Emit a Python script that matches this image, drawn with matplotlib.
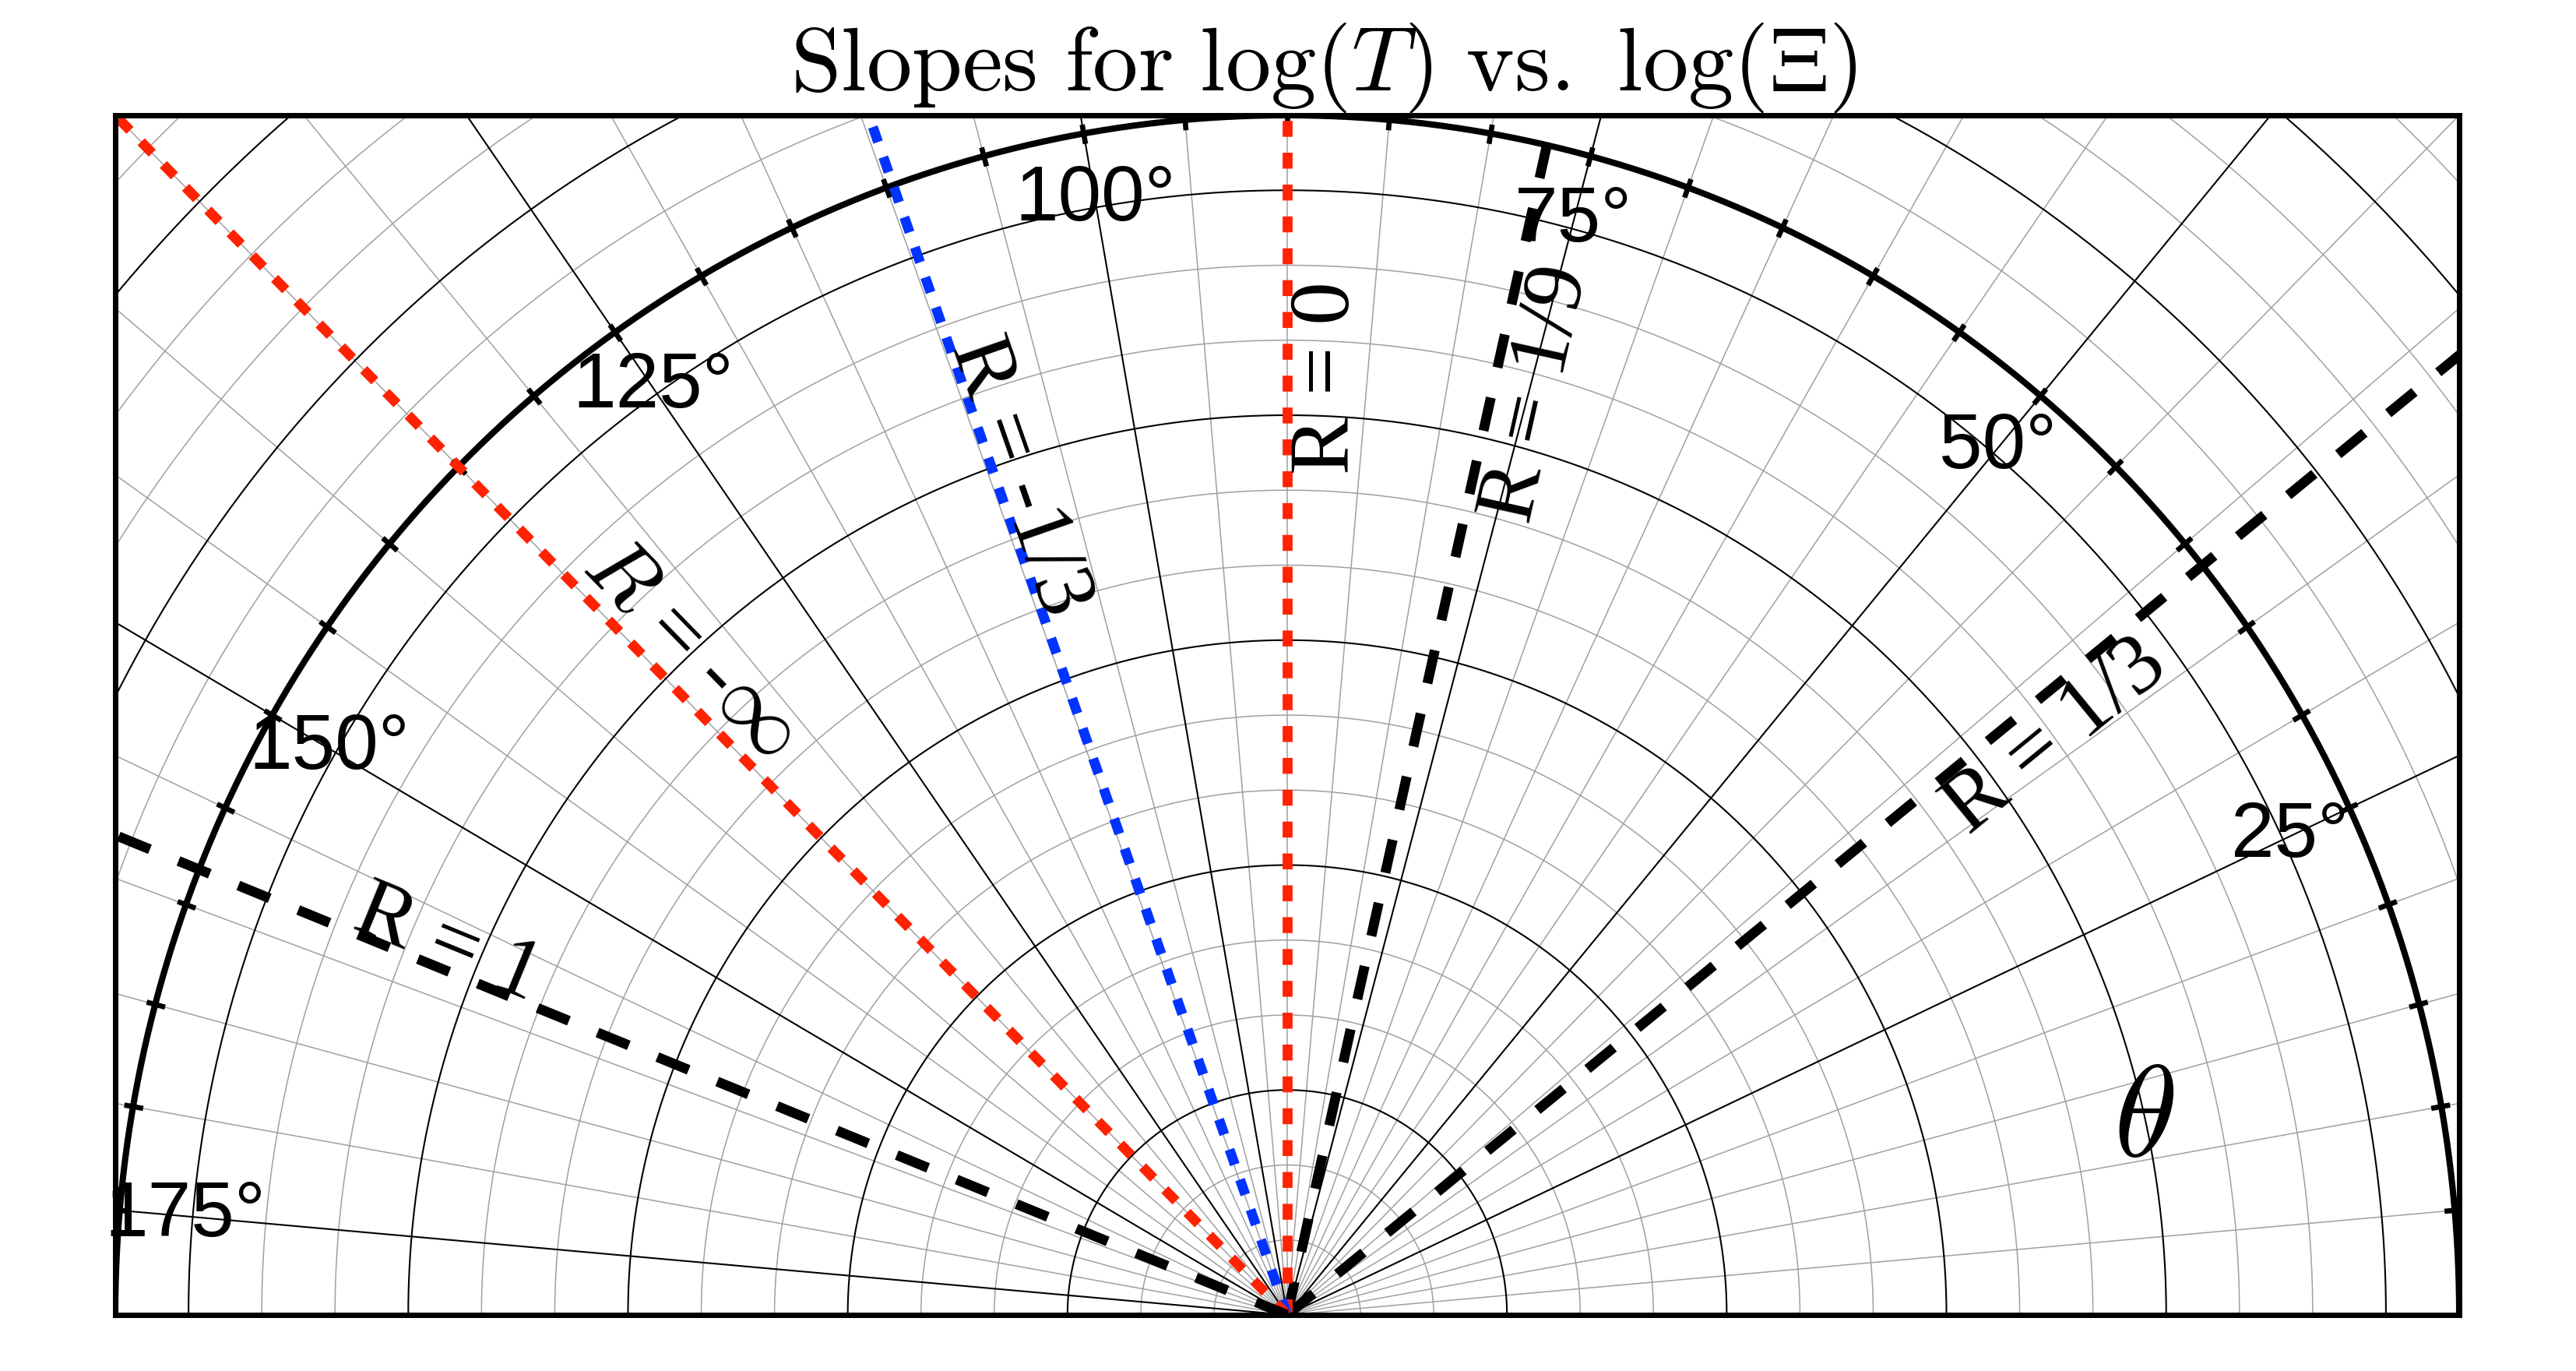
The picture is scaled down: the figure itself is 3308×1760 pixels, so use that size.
import numpy as np
import matplotlib
matplotlib.use("Agg")
from matplotlib import pyplot as plt

plt.rcParams['mathtext.fontset'] = 'cm'

# slope lines: angle (deg) of each line and its label
line_angles = [38.66, 77.2, 90.0, 109.65, 135.0, 158.2]
line_labels = ['R = 1/3', 'R = 1/9', 'R = 0', 'R = -1/3', r'$R$ = -$\infty$', 'R = 1']
line_colors = ['black', 'black', '#ff2200', '#0033ff', '#ff2200', 'black']
line_kinds = ['long', 'long', 'short', 'short', 'short', 'long']

# grid
ring_radii = np.arange(1, 23)
major_ring_step = 3
spoke_angles = np.arange(0, 180, 5)
major_spoke_step = 25
outer_radius = 16
tick_labels = [25, 50, 75, 100, 125, 150, 175]

# label placement (data coords)
label_xy = [(10.5, 7.7), (3.41, 12.28), (0.56, 12.5), (-3.66, 11.18), (-8.15, 8.86), (-11.46, 4.93)]

W, H, DPI = 3308, 1760, 200
fig = plt.figure(figsize=(W / DPI, H / DPI), dpi=DPI)
ax = fig.add_axes([148 / W, 72 / H, 3010 / W, 1540 / H])
ax.set_xlim(-16, 16)
ax.set_ylim(0, 16)
ax.set_xticks([])
ax.set_yticks([])
for s in ax.spines.values():
    s.set_linewidth(2.5)
    s.set_zorder(10)

th = np.linspace(0, np.pi, 721)
for r in ring_radii:
    major = r % major_ring_step == 0
    ax.plot(r * np.cos(th), r * np.sin(th), color='black' if major else '#a0a0a0',
            lw=0.75 if major else 0.55, zorder=1 if not major else 2)

rmax = 25
for a in spoke_angles:
    major = a % major_spoke_step == 0
    t = np.radians(a)
    ax.plot([0, rmax * np.cos(t)], [0, rmax * np.sin(t)], color='black' if major else '#a0a0a0',
            lw=0.75 if major else 0.55, zorder=1 if not major else 2)

# thick theta axis
ax.plot(outer_radius * np.cos(th), outer_radius * np.sin(th), color='black', lw=2.9, zorder=4)
for a in np.arange(5, 180, 5):
    t = np.radians(a)
    ax.plot([15.86 * np.cos(t), 16.12 * np.cos(t)], [15.86 * np.sin(t), 16.12 * np.sin(t)],
            color='black', lw=2.4, zorder=4, solid_capstyle='butt')

for a in tick_labels:
    t = np.radians(a)
    ax.text(15.1 * np.cos(t), 15.1 * np.sin(t), f'{a}°', ha='center', va='center',
            fontsize=36, family='Liberation Sans', zorder=6)

ax.text(11.7, 2.6, r'$\theta$', fontsize=60, ha='center', va='center', zorder=6)

# slope lines
p0 = ax.transData.transform((0, 0))
for ang, lab, col, kind, (lx, ly) in zip(line_angles, line_labels, line_colors, line_kinds, label_xy):
    t = np.radians(ang)
    if kind == 'long':
        dashes = (3.4, 3.1)
    else:
        dashes = (1.6, 1.6)
    ax.plot([0, rmax * np.cos(t)], [0, rmax * np.sin(t)], color=col, lw=4.6,
            dashes=dashes, zorder=5, dash_capstyle='butt')
    p1 = ax.transData.transform((np.cos(t), np.sin(t)))
    rot = np.degrees(np.arctan2(p1[1] - p0[1], p1[0] - p0[0]))
    if rot > 90.5:
        rot -= 180
    ax.text(lx, ly, lab, rotation=rot, rotation_mode='anchor', ha='center', va='center',
            fontsize=40, family=['Liberation Serif', 'DejaVu Serif'], zorder=7)

fig.text(806 / 1568, 0.934, r'$\mathrm{Slopes\ for\ }\log(T)\mathrm{\ vs.\ }\log(\Xi)$',
         ha='center', va='baseline', fontsize=42)

plt.savefig('out.png', dpi=DPI)
